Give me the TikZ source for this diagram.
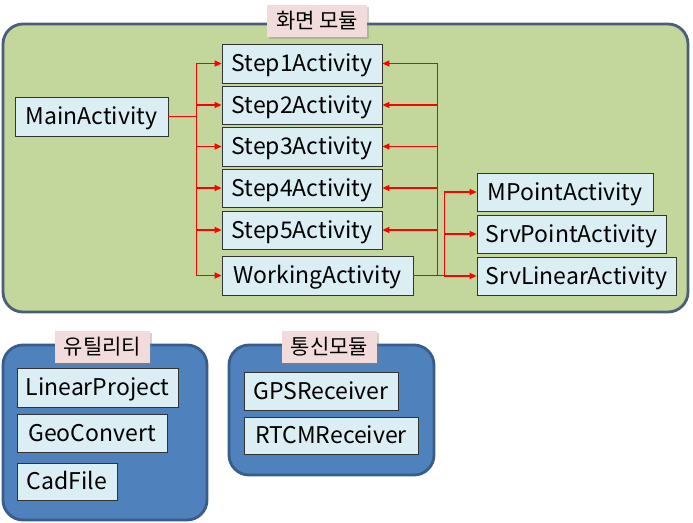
\documentclass[tikz,border=0pt]{standalone}
\usepackage{fontspec}
\setmainfont{Noto Sans CJK KR}
\usetikzlibrary{arrows.meta,shadows}
\definecolor{grn}{HTML}{C3D69B}
\definecolor{grnb}{HTML}{4A5E7A}
\definecolor{blu}{HTML}{4F81BD}
\definecolor{blub}{HTML}{385D8A}
\definecolor{nodef}{HTML}{DBEEF4}
\definecolor{pnk}{HTML}{F2DCDB}
\definecolor{arr}{HTML}{FF0000}
\begin{document}
\begin{tikzpicture}[x=1pt,y=-1pt,
  cls/.style={draw=black!80,line width=0.8pt,fill=nodef,inner sep=0pt,text height=16.5pt,text depth=0pt,font=\fontsize{23}{25}\selectfont},
  grp/.style={line width=2.8pt,rounded corners=20pt},
  lbl/.style={fill=pnk,inner sep=0pt,minimum width=#1,minimum height=32,text height=15pt,text depth=0pt,font=\fontsize{21}{23}\selectfont,drop shadow={shadow xshift=2pt,shadow yshift=-2pt,opacity=0.35}},
  con/.style={draw=arr,line width=1.3pt,-{Triangle[length=7pt,width=6pt]}}]
\useasboundingbox (0,0) rectangle (693,522);
\fill[white] (0,0) rectangle (693,522);
% groups
\draw[grp,draw=grnb,fill=grn] (3,24) rectangle (688,312);
\draw[grp,draw=blub,fill=blu] (3,345) rectangle (207,520);
\draw[grp,draw=blub,fill=blu] (229,345) rectangle (434,475);
% labels
\node[lbl=100] (l1) at (317,21) {화면 모듈};
\node[lbl=95] (l2) at (102.5,347) {유틸리티};
\node[lbl=95] (l3) at (329.5,346.5) {통신모듈};
% nodes
\node[cls,minimum width=153,minimum height=39] (main) at (91.5,116.5) {MainActivity};
\node[cls,minimum width=160,minimum height=39] (s1) at (302,63.5) {Step1Activity};
\node[cls,minimum width=160,minimum height=38] (s2) at (302,105) {Step2Activity};
\node[cls,minimum width=160,minimum height=39] (s3) at (302,146.5) {Step3Activity};
\node[cls,minimum width=160,minimum height=38] (s4) at (302,188) {Step4Activity};
\node[cls,minimum width=160,minimum height=38] (s5) at (302,230) {Step5Activity};
\node[cls,minimum width=191,minimum height=39] (work) at (317.5,275.5) {WorkingActivity};
\node[cls,minimum width=176,minimum height=38] (mp) at (565,192) {MPointActivity};
\node[cls,minimum width=189,minimum height=38] (sp) at (571.5,234) {SrvPointActivity};
\node[cls,minimum width=199,minimum height=38] (sl) at (576.5,276) {SrvLinearActivity};
\node[cls,minimum width=161,minimum height=39] (lp) at (97.5,387.5) {LinearProject};
\node[cls,minimum width=150,minimum height=38] (gc) at (92,433) {GeoConvert};
\node[cls,minimum width=100,minimum height=37] (cf) at (67,481.5) {CadFile};
\node[cls,minimum width=154,minimum height=38] (gps) at (321,391) {GPSReceiver};
\node[cls,minimum width=174,minimum height=37] (rtcm) at (331,435.5) {RTCMReceiver};
% connectors left
\foreach \t in {s1,s2,s3,s4,s5,work}
  \draw[con] (main.east) -- ++(28,0) |- (\t.west);
% connectors right
\foreach \t in {s1,s2,s3,s4,s5}
  \draw[con] (work.east) -- ++(24,0) |- (\t.east);
\foreach \t in {mp,sp,sl}
  \draw[con] (work.east) -- ++(31,0) |- (\t.west);
\end{tikzpicture}
\end{document}
